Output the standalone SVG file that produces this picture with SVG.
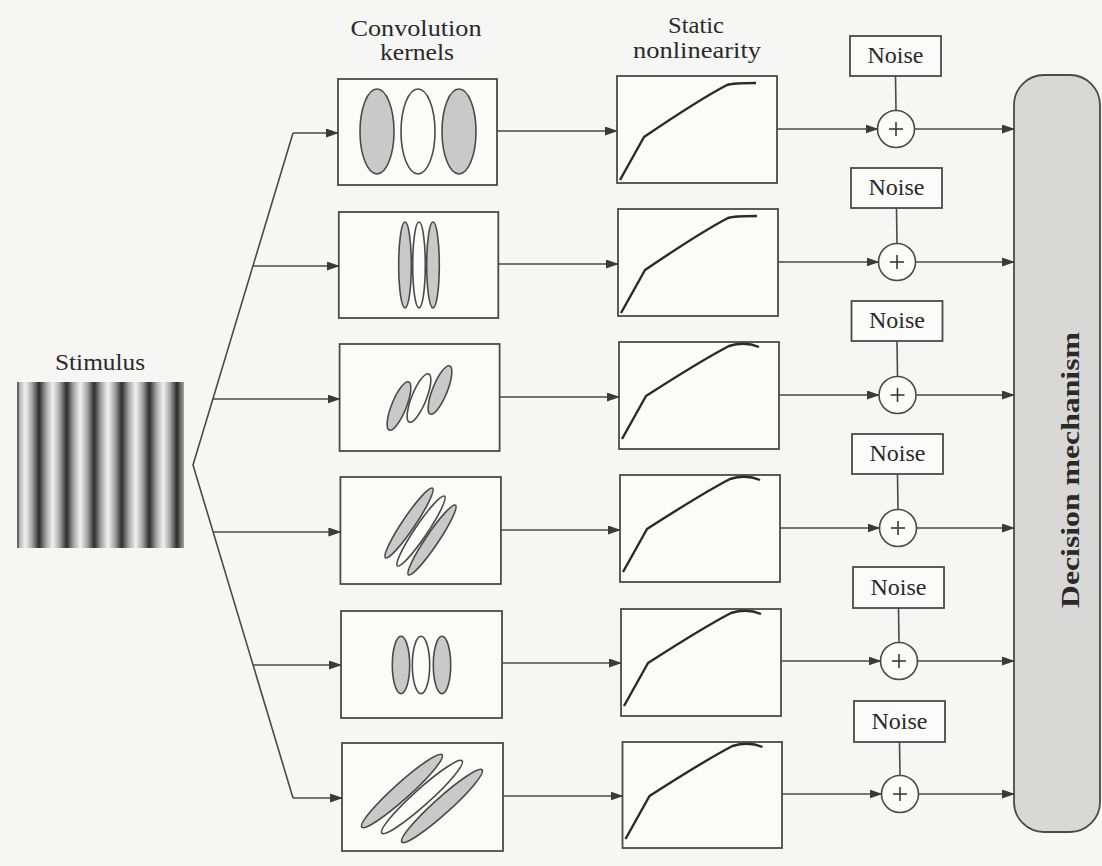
<svg xmlns="http://www.w3.org/2000/svg" width="1102" height="866" viewBox="0 0 1102 866">
<style>
.box{fill:#fbfbfa;stroke:#4a4a4a;stroke-width:1.8}
.ln{fill:none;stroke:#4a4a4a;stroke-width:1.6}
.arr{fill:none;stroke:#4a4a4a;stroke-width:1.6;marker-end:url(#ah)}
.sh{fill:#c9c9c9;stroke:#4a4a4a;stroke-width:1.6}
.wh{fill:#fbfbfa;stroke:#4a4a4a;stroke-width:1.6}
.crv{fill:none;stroke:#2a2a2a;stroke-width:2.4;stroke-linejoin:round}
.t{font-family:"Liberation Serif","Times New Roman",serif;font-size:24px;fill:#2a2a2a;text-anchor:middle}
.pl{stroke:#3a3a3a;stroke-width:1.6}
</style>
<defs>
<marker id="ah" markerWidth="13" markerHeight="10" refX="12" refY="4.5" orient="auto" markerUnits="userSpaceOnUse">
<path d="M0,0 L13,4.5 L0,9 z" fill="#3a3a3a"/>
</marker>
<linearGradient id="gr" x1="0" y1="0" x2="1" y2="0">
<stop offset="0" stop-color="#f2f2f2"/>
<stop offset="0.25" stop-color="#a4a4a4"/>
<stop offset="0.5" stop-color="#2c2c2c"/>
<stop offset="0.75" stop-color="#a4a4a4"/>
<stop offset="1" stop-color="#f2f2f2"/>
</linearGradient>
<pattern id="grating" patternUnits="userSpaceOnUse" x="25.2" y="0" width="27.6" height="866">
<rect x="0" y="0" width="27.6" height="866" fill="url(#gr)"/>
</pattern>
<path id="cA" d="M3,104 L27,61 C55,42 85,22 110,9 Q116,7 139,7"/>
<path id="cB" d="M3,97 L27,54 C55,36 85,17 110,4 Q126,-1 140,5"/>
</defs>
<rect x="0" y="0" width="1102" height="866" fill="#f6f6f4"/>

<!-- headers -->
<text class="t" x="416" y="36" textLength="131" lengthAdjust="spacingAndGlyphs">Convolution</text>
<text class="t" x="417" y="60" textLength="74" lengthAdjust="spacingAndGlyphs">kernels</text>
<text class="t" x="696" y="33" textLength="56" lengthAdjust="spacingAndGlyphs">Static</text>
<text class="t" x="697" y="58" textLength="128" lengthAdjust="spacingAndGlyphs">nonlinearity</text>

<!-- stimulus -->
<g id="stimulus">
<text class="t" x="100" y="370" textLength="90" lengthAdjust="spacingAndGlyphs">Stimulus</text>
<rect x="17" y="382" width="167" height="166" fill="url(#grating)"/>
<line x1="18" y1="382" x2="18" y2="548" stroke="#666" stroke-width="2"/>
</g>

<!-- decision -->
<g id="decision">
<rect x="1014" y="75" width="86" height="757" rx="30" ry="30" fill="#d8d8d7" stroke="#4a4a4a" stroke-width="1.8"/>
<text x="0" y="0" transform="translate(1079,470) rotate(-90)" font-family="'Liberation Serif','Times New Roman',serif" font-weight="bold" font-size="26" fill="#2a2a2a" text-anchor="middle" textLength="276" lengthAdjust="spacingAndGlyphs">Decision mechanism</text>
</g>

<!-- kernel boxes -->
<g id="kernel1">
<rect class="box" x="338" y="79" width="159" height="106"/>
<ellipse class="sh" cx="377" cy="131.5" rx="17" ry="42.5"/>
<ellipse class="wh" cx="418" cy="131.5" rx="17" ry="42.5"/>
<ellipse class="sh" cx="459" cy="131.5" rx="17" ry="42.5"/>
</g>
<g id="kernel2">
<rect class="box" x="338.8" y="212" width="159.5" height="106"/>
<ellipse class="sh" cx="405" cy="265" rx="6.3" ry="43"/>
<ellipse class="wh" cx="419" cy="265" rx="6.3" ry="43"/>
<ellipse class="sh" cx="433" cy="265" rx="6.3" ry="43"/>
</g>
<g id="kernel3">
<rect class="box" x="339.6" y="344" width="160" height="107"/>
<ellipse class="sh" cx="399" cy="406" rx="7.3" ry="26" transform="rotate(22 399 406)"/>
<ellipse class="wh" cx="419" cy="398" rx="7.3" ry="26" transform="rotate(22 419 398)"/>
<ellipse class="sh" cx="440" cy="390" rx="7.3" ry="26" transform="rotate(22 440 390)"/>
</g>
<g id="kernel4">
<rect class="box" x="340.4" y="477" width="160.5" height="107"/>
<ellipse class="sh" cx="409" cy="523" rx="6.3" ry="42" transform="rotate(34 409 523)"/>
<ellipse class="wh" cx="421" cy="531" rx="6.3" ry="42" transform="rotate(34 421 531)"/>
<ellipse class="sh" cx="432" cy="540" rx="6.3" ry="42" transform="rotate(34 432 540)"/>
</g>
<g id="kernel5">
<rect class="box" x="341" y="611" width="161" height="107"/>
<ellipse class="sh" cx="401" cy="665" rx="8.7" ry="28.7"/>
<ellipse class="wh" cx="421" cy="665" rx="8.7" ry="28.7"/>
<ellipse class="sh" cx="442" cy="665" rx="8.7" ry="28.7"/>
</g>
<g id="kernel6">
<rect class="box" x="342" y="743" width="161" height="108"/>
<ellipse class="sh" cx="402" cy="791" rx="8" ry="54" transform="rotate(48 402 791)"/>
<ellipse class="wh" cx="422" cy="797" rx="8" ry="54" transform="rotate(48 422 797)"/>
<ellipse class="sh" cx="442" cy="806" rx="8" ry="54" transform="rotate(48 442 806)"/>
</g>

<!-- nonlinearity boxes -->
<g id="nonlin1"><rect class="box" x="617" y="76" width="160" height="107"/><use href="#cA" class="crv" x="617" y="76"/></g>
<g id="nonlin2"><rect class="box" x="618" y="209" width="160" height="107"/><use href="#cA" class="crv" x="618" y="209"/></g>
<g id="nonlin3"><rect class="box" x="619" y="342" width="160" height="107"/><use href="#cB" class="crv" x="619" y="342"/></g>
<g id="nonlin4"><rect class="box" x="620" y="475" width="160" height="107"/><use href="#cB" class="crv" x="620" y="475"/></g>
<g id="nonlin5"><rect class="box" x="621" y="609" width="160" height="107"/><use href="#cB" class="crv" x="621" y="609"/></g>
<g id="nonlin6"><rect class="box" x="622.5" y="742" width="159.5" height="106"/><use href="#cB" class="crv" x="622.5" y="742"/></g>

<!-- noise boxes -->
<g id="noise1"><rect class="box" x="850" y="36" width="91" height="40"/><text class="t" x="895.5" y="63">Noise</text></g>
<g id="noise2"><rect class="box" x="851" y="168" width="91" height="40"/><text class="t" x="896.5" y="195">Noise</text></g>
<g id="noise3"><rect class="box" x="851.5" y="301" width="91" height="40"/><text class="t" x="897" y="328">Noise</text></g>
<g id="noise4"><rect class="box" x="852" y="434" width="91" height="40"/><text class="t" x="897.5" y="461">Noise</text></g>
<g id="noise5"><rect class="box" x="853" y="567" width="91" height="41"/><text class="t" x="898.5" y="595">Noise</text></g>
<g id="noise6"><rect class="box" x="854" y="701" width="91" height="41"/><text class="t" x="899.5" y="729">Noise</text></g>

<!-- summing junctions -->
<g id="sum1"><circle class="wh" cx="896" cy="129" r="18.5"/><line class="pl" x1="889" y1="129" x2="903" y2="129"/><line class="pl" x1="896" y1="122" x2="896" y2="136"/></g>
<g id="sum2"><circle class="wh" cx="897" cy="262" r="18.5"/><line class="pl" x1="890" y1="262" x2="904" y2="262"/><line class="pl" x1="897" y1="255" x2="897" y2="269"/></g>
<g id="sum3"><circle class="wh" cx="897.5" cy="395" r="18.5"/><line class="pl" x1="890.5" y1="395" x2="904.5" y2="395"/><line class="pl" x1="897.5" y1="388" x2="897.5" y2="402"/></g>
<g id="sum4"><circle class="wh" cx="898" cy="528" r="18.5"/><line class="pl" x1="891" y1="528" x2="905" y2="528"/><line class="pl" x1="898" y1="521" x2="898" y2="535"/></g>
<g id="sum5"><circle class="wh" cx="899" cy="661" r="18.5"/><line class="pl" x1="892" y1="661" x2="906" y2="661"/><line class="pl" x1="899" y1="654" x2="899" y2="668"/></g>
<g id="sum6"><circle class="wh" cx="900" cy="794" r="18.5"/><line class="pl" x1="893" y1="794" x2="907" y2="794"/><line class="pl" x1="900" y1="787" x2="900" y2="801"/></g>

<!-- connectors -->
<g id="connectors">
<polyline class="ln" points="293,133 193,465 293,798"/>
<line class="arr" x1="293" y1="133" x2="338" y2="133"/>
<line class="arr" x1="253" y1="266" x2="338.8" y2="266"/>
<line class="arr" x1="213" y1="399" x2="339.6" y2="399"/>
<line class="arr" x1="213" y1="532" x2="340.4" y2="532"/>
<line class="arr" x1="253" y1="665" x2="341" y2="665"/>
<line class="arr" x1="293" y1="798" x2="342" y2="798"/>
<line class="arr" x1="497" y1="131" x2="617" y2="131"/>
<line class="arr" x1="498.3" y1="264" x2="618" y2="264"/>
<line class="arr" x1="499.6" y1="397" x2="619" y2="397"/>
<line class="arr" x1="500.9" y1="530" x2="620" y2="530"/>
<line class="arr" x1="502" y1="663" x2="621" y2="663"/>
<line class="arr" x1="503" y1="796" x2="622.5" y2="796"/>
<line class="arr" x1="777" y1="129" x2="877.5" y2="129"/>
<line class="arr" x1="778" y1="262" x2="878.5" y2="262"/>
<line class="arr" x1="779" y1="395" x2="879" y2="395"/>
<line class="arr" x1="780" y1="528" x2="879.5" y2="528"/>
<line class="arr" x1="781" y1="661" x2="880.5" y2="661"/>
<line class="arr" x1="782" y1="794" x2="881.5" y2="794"/>
<line class="ln" x1="895.5" y1="76" x2="896" y2="110.5"/>
<line class="ln" x1="896.5" y1="208" x2="897" y2="243.5"/>
<line class="ln" x1="897" y1="341" x2="897.5" y2="376.5"/>
<line class="ln" x1="897.5" y1="474" x2="898" y2="509.5"/>
<line class="ln" x1="898.5" y1="608" x2="899" y2="642.5"/>
<line class="ln" x1="899.5" y1="742" x2="900" y2="775.5"/>
<line class="arr" x1="914.5" y1="129" x2="1014" y2="129"/>
<line class="arr" x1="915.5" y1="262" x2="1014" y2="262"/>
<line class="arr" x1="916" y1="395" x2="1014" y2="395"/>
<line class="arr" x1="916.5" y1="528" x2="1014" y2="528"/>
<line class="arr" x1="917.5" y1="661" x2="1014" y2="661"/>
<line class="arr" x1="918.5" y1="794" x2="1014" y2="794"/>
</g>
</svg>
